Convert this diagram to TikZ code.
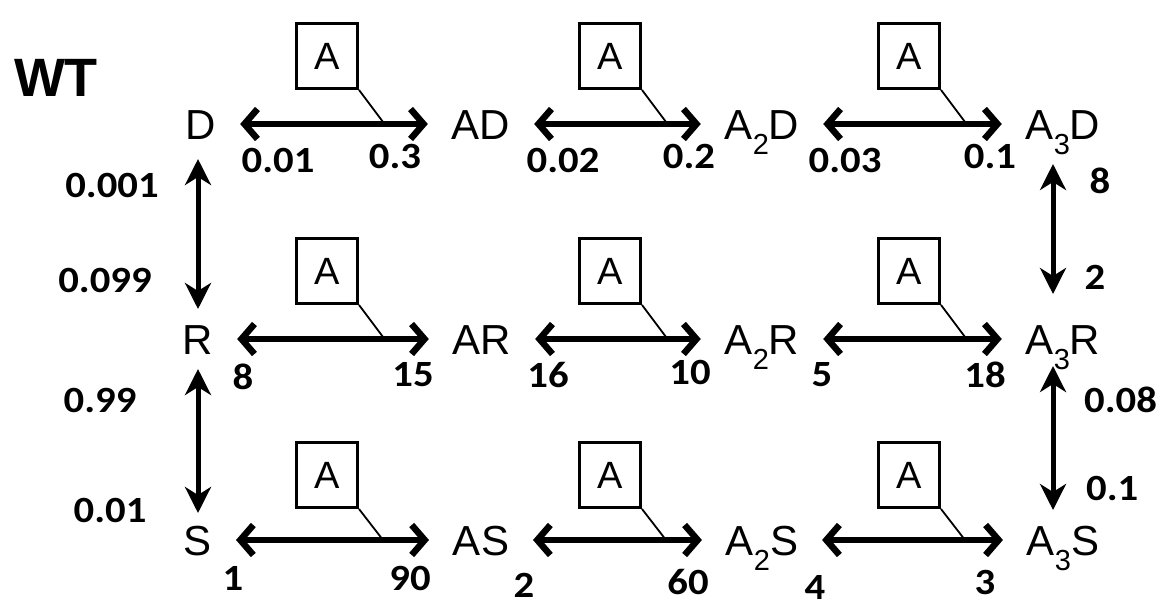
\documentclass[tikz,border=0pt]{standalone}
\usepackage{fontspec}
\setmainfont{Liberation Sans}
\newfontfamily\numfont[FakeStretch=1.1]{Carlito}
\usetikzlibrary{arrows.meta,calc}
\newcommand\lowsub[1]{\raisebox{-0.36em}{\fontsize{29}{29}\selectfont #1}}
\begin{document}
\begin{tikzpicture}[x=1pt,y=-1pt,
  state/.style={inner sep=0pt,outer sep=0pt,text height=30pt,text depth=0pt,font=\fontsize{42}{44}\selectfont},
  abox/.style={draw,line width=3pt,minimum width=61pt,minimum height=65pt,inner sep=0pt,font=\fontsize{38}{40}\selectfont},
  harrow/.style={line width=6.5pt,{Straight Barb[length=13pt,width=30pt,line width=6.5pt]}-{Straight Barb[length=13pt,width=30pt,line width=6.5pt]},shorten <=24pt,shorten >=24pt},
  varrow/.style={line width=5pt,{Stealth[length=26pt,width=26pt,inset=8pt]}-{Stealth[length=26pt,width=26pt,inset=8pt]}},
  link/.style={line width=1.8pt},
  rate/.style={font=\numfont\bfseries\fontsize{37}{39}\selectfont,inner sep=0pt}]
\useasboundingbox (0,0) rectangle (1164,608);
\node[font=\bfseries\fontsize{54}{56}\selectfont] (wt) at (56,78) {WT};
% states
\node[state] (D)   at (201,124) {D};
\node[state] (AD)  at (481,124) {AD};
\node[state] (A2D) at (762,124) {A\lowsub{2}D};
\node[state] (A3D) at (1063,124) {A\lowsub{3}D};
\node[state] (R)   at (198,339) {R};
\node[state] (AR)  at (482,339) {AR};
\node[state] (A2R) at (762,339) {A\lowsub{2}R};
\node[state] (A3R) at (1063,339) {A\lowsub{3}R};
\node[state] (S)   at (198,540) {S};
\node[state] (AS)  at (481,540) {AS};
\node[state] (A2S) at (762,540) {A\lowsub{2}S};
\node[state] (A3S) at (1063,540) {A\lowsub{3}S};
% horizontal arrows
\draw[harrow] (D.east) -- (AD.west);
\draw[harrow] (AD.east) -- (A2D.west);
\draw[harrow] (A2D.east) -- (A3D.west);
\draw[harrow] (R.east) -- (AR.west);
\draw[harrow] (AR.east) -- (A2R.west);
\draw[harrow] (A2R.east) -- (A3R.west);
\draw[harrow] (S.east) -- (AS.west);
\draw[harrow] (AS.east) -- (A2S.west);
\draw[harrow] (A2S.east) -- (A3S.west);
% vertical arrows
\draw[varrow,shorten <=20pt,shorten >=15pt] ([xshift=-3pt]D.south) -- ([xshift=0pt]R.north);
\draw[varrow,shorten <=15pt,shorten >=12pt] (R.south) -- (S.north);
\draw[varrow,shorten <=25pt,shorten >=30pt] ([xshift=-10pt]A3D.south) -- ([xshift=-10pt]A3R.north);
\draw[varrow,shorten <=12pt,shorten >=15pt] ([xshift=-10pt]A3R.south) -- ([xshift=-10pt]A3S.north);
% A boxes
\foreach \n/\x/\y in {b1/327/56,b2/610/56,b3/909/56,b4/327/271,b5/610/271,b6/909/271,b7/327/475,b8/610/475,b9/909/475}{
  \node[abox] (\n) at (\x,\y) {A};
}
\coordinate (t1) at (383,122);
\coordinate (t2) at (666,122);
\coordinate (t3) at (965,122);
\coordinate (t4) at (383,337);
\coordinate (t5) at (666,337);
\coordinate (t6) at (965,337);
\coordinate (t7) at (383,540);
\coordinate (t8) at (666,540);
\coordinate (t9) at (965,540);
\foreach \i in {1,...,9}{\draw[link] (b\i.south east) -- (t\i);}
% rates
\node[rate] (r1) at (278,160) {0.01};
\node[rate] (r2) at (395,156) {0.3};
\node[rate] (r3) at (563,160) {0.02};
\node[rate] (r4) at (689,156) {0.2};
\node[rate] (r5) at (845,160) {0.03};
\node[rate] (r6) at (990,156) {0.1};
\node[rate] (r7) at (1100,181) {8};
\node[rate] (r8) at (1095,277) {2};
\node[rate] (r9) at (112,185) {0.001};
\node[rate] (r10) at (105,280) {0.099};
\node[rate] (r11) at (243,377) {8};
\node[rate] (r12) at (413,375) {15};
\node[rate] (r13) at (548,375) {16};
\node[rate] (r14) at (690,372) {10};
\node[rate] (r15) at (822,375) {5};
\node[rate] (r16) at (985,375) {18};
\node[rate] (r17) at (100,400) {0.99};
\node[rate,anchor=west] (r18) at (1084,400) {0.08};
\node[rate] (r19) at (110,510) {0.01};
\node[rate,anchor=west] (r20) at (1086,488) {0.1};
\node[rate] (r21) at (233,578) {1};
\node[rate] (r22) at (410,578) {90};
\node[rate] (r23) at (524,585) {2};
\node[rate] (r24) at (688,582) {60};
\node[rate] (r25) at (815,587) {4};
\node[rate] (r26) at (985,582) {3};
\end{tikzpicture}
\end{document}
